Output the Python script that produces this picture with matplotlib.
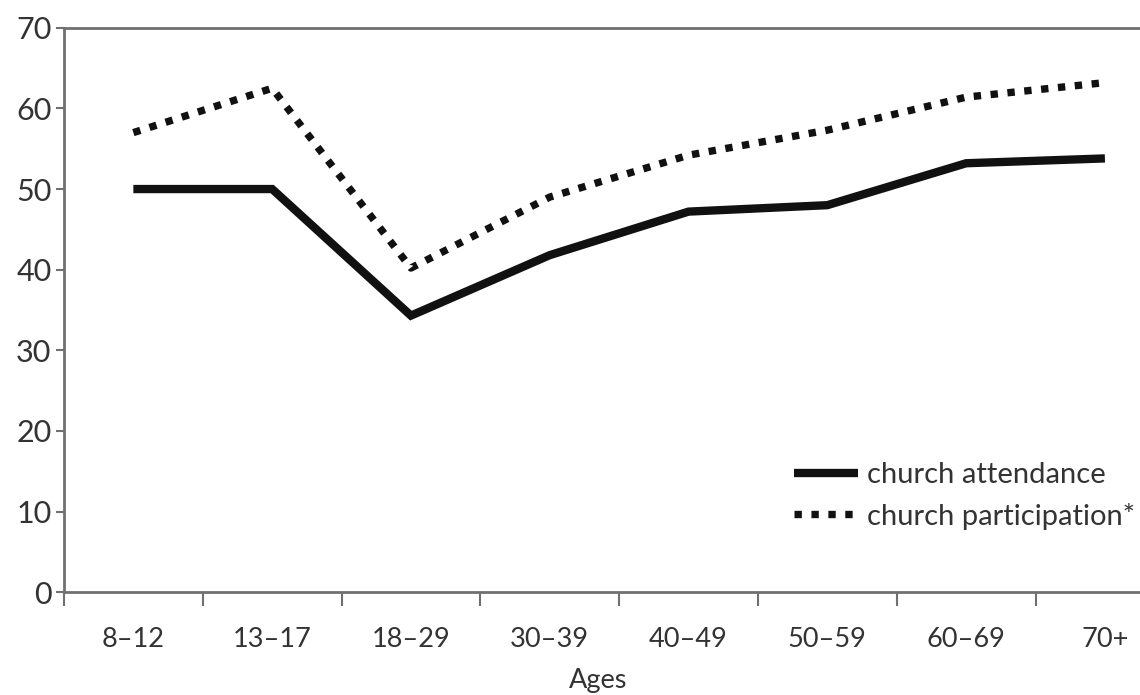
import numpy as np
import matplotlib.pyplot as plt

# age groups and the two series (percent)
ages = ['8–12', '13–17', '18–29', '30–39', '40–49', '50–59', '60–69', '70+']
attendance = [50, 50, 34.3, 41.8, 47.2, 48.0, 53.2, 53.8]
participation = [57.0, 62.5, 40.2, 49.0, 54.2, 57.3, 61.4, 63.2]

plt.rcParams['font.family'] = ['Lato', 'DejaVu Sans']
txt = '#333333'
spine_col = '#707070'

fig = plt.figure(figsize=(11.4, 6.95), dpi=100)
ax = fig.add_axes([0.0561, 0.148, 0.974, 0.812])

x = np.arange(len(ages))
ax.plot(x, attendance, color='#111111', lw=6, solid_joinstyle='miter',
        solid_capstyle='butt', label='church attendance')
ax.plot(x, participation, color='#111111', lw=5.3, dashes=(1, 1.3),
        dash_capstyle='butt', label='church participation*')

ax.set_xlim(-0.5, 7.5)
ax.set_ylim(0, 70)
ax.set_yticks(range(0, 71, 10))
ax.set_xticks(x)
ax.set_xticklabels(ages)
ax.set_xticks(np.arange(-0.5, 8, 1), minor=True)

ax.tick_params(axis='y', labelsize=22, colors=spine_col, labelcolor=txt,
               length=6, width=1.5, pad=3)
ax.tick_params(axis='x', which='major', length=0, labelsize=19.5,
               labelcolor=txt, pad=25)
ax.tick_params(axis='x', which='minor', length=10, width=1.5,
               color=spine_col)

for side in ['left', 'bottom', 'top']:
    ax.spines[side].set_color(spine_col)
    ax.spines[side].set_linewidth(2)
ax.spines['right'].set_visible(False)

ax.set_xlabel('Ages', fontsize=19.5, color=txt)
ax.xaxis.set_label_coords(0.481, -0.135)

leg = ax.legend(loc='lower right', bbox_to_anchor=(0.975, 0.09), frameon=False,
                fontsize=21, handlelength=2.2, handletextpad=0.3,
                labelspacing=0.5, borderaxespad=0)
for t in leg.get_texts():
    t.set_color(txt)

plt.savefig('out.png', dpi=100)
